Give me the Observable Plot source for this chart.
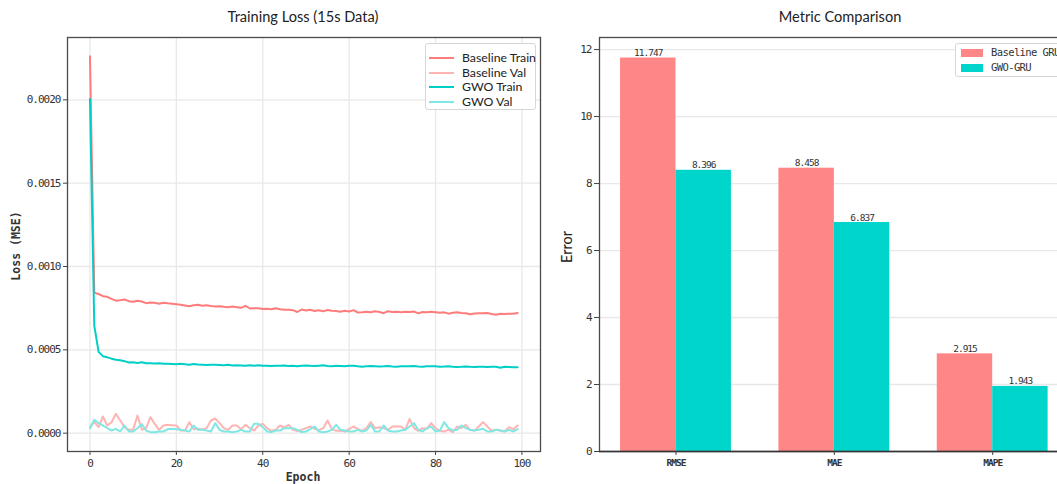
<!DOCTYPE html>
<html><head><meta charset="utf-8">
<script src="https://cdn.jsdelivr.net/npm/d3@7"></script>
<script src="https://cdn.jsdelivr.net/npm/@observablehq/plot@0.6"></script>
<style>
html,body{margin:0;padding:0;background:#fff;overflow:hidden}
#wrap{position:relative;width:1057px;height:484px;overflow:hidden;background:#fff}
.abs{position:absolute;white-space:nowrap}
.title{font-family:Lato,"Open Sans",sans-serif;font-size:14.6px;color:#222;transform:translateX(-50%)}
.mono{font-family:"DejaVu Sans Mono","Liberation Mono",monospace;color:#333}
.leg{position:absolute;background:#fff;border:1px solid #d6d6d6;border-radius:3px;box-sizing:border-box}
</style></head><body><div id="wrap"></div>
<script>
// ---------------- data: training loss ----------------
const epochs = d3.range(100);
const seriesNames = ["Baseline Train", "Baseline Val", "GWO Train", "GWO Val"];
const seriesColors = ["#ff7c7c", "#ffb4b4", "#00cfc8", "#80e8e4"];
const baselineTrain = [
0.002262,0.000842,0.000835,0.000822,0.000818,0.000806,0.000795,0.000798,0.000802,0.000792,
0.000788,0.000795,0.000790,0.000780,0.000784,0.000782,0.000776,0.000783,0.000779,0.000776,
0.000773,0.000770,0.000766,0.000762,0.000768,0.000771,0.000765,0.000767,0.000763,0.000760,
0.000762,0.000758,0.000755,0.000760,0.000756,0.000752,0.000764,0.000748,0.000750,0.000749,
0.000745,0.000747,0.000743,0.000750,0.000744,0.000741,0.000740,0.000738,0.000727,0.000742,
0.000736,0.000740,0.000733,0.000737,0.000731,0.000739,0.000735,0.000733,0.000729,0.000734,
0.000730,0.000738,0.000724,0.000726,0.000729,0.000725,0.000731,0.000727,0.000720,0.000732,
0.000727,0.000728,0.000726,0.000729,0.000727,0.000730,0.000719,0.000727,0.000726,0.000729,
0.000726,0.000723,0.000725,0.000717,0.000723,0.000726,0.000721,0.000720,0.000713,0.000718,
0.000720,0.000719,0.000721,0.000715,0.000711,0.000716,0.000715,0.000717,0.000716,0.000721];
const baselineVal = [
0.000036,0.000066,0.000036,0.000100,0.000046,0.000066,0.000116,0.000076,0.000036,0.000020,
0.000020,0.000106,0.000020,0.000030,0.000096,0.000056,0.000020,0.000046,0.000050,0.000048,
0.000046,0.000016,0.000016,0.000066,0.000024,0.000026,0.000022,0.000030,0.000076,0.000088,
0.000060,0.000030,0.000020,0.000046,0.000046,0.000024,0.000050,0.000030,0.000016,0.000046,
0.000056,0.000030,0.000014,0.000020,0.000046,0.000034,0.000050,0.000020,0.000012,0.000020,
0.000030,0.000040,0.000026,0.000018,0.000030,0.000076,0.000024,0.000014,0.000016,0.000010,
0.000024,0.000040,0.000026,0.000014,0.000030,0.000066,0.000030,0.000036,0.000030,0.000020,
0.000040,0.000040,0.000040,0.000020,0.000086,0.000030,0.000014,0.000030,0.000026,0.000060,
0.000030,0.000014,0.000010,0.000020,0.000006,0.000040,0.000030,0.000050,0.000020,0.000014,
0.000040,0.000066,0.000040,0.000014,0.000020,0.000016,0.000010,0.000036,0.000024,0.000046];
const gwoTrain = [
0.002005,0.000645,0.000488,0.000462,0.000455,0.000447,0.000440,0.000438,0.000432,0.000424,
0.000426,0.000421,0.000426,0.000420,0.000419,0.000418,0.000420,0.000417,0.000416,0.000415,
0.000414,0.000416,0.000413,0.000411,0.000415,0.000412,0.000411,0.000409,0.000410,0.000411,
0.000409,0.000407,0.000410,0.000406,0.000408,0.000406,0.000404,0.000407,0.000405,0.000408,
0.000405,0.000404,0.000403,0.000405,0.000404,0.000406,0.000403,0.000404,0.000402,0.000405,
0.000406,0.000404,0.000403,0.000405,0.000407,0.000403,0.000401,0.000404,0.000403,0.000402,
0.000404,0.000405,0.000401,0.000399,0.000401,0.000403,0.000402,0.000400,0.000401,0.000403,
0.000400,0.000398,0.000401,0.000402,0.000401,0.000403,0.000400,0.000399,0.000401,0.000402,
0.000401,0.000399,0.000400,0.000402,0.000399,0.000397,0.000398,0.000400,0.000398,0.000397,
0.000399,0.000398,0.000397,0.000399,0.000398,0.000392,0.000398,0.000397,0.000395,0.000396];
const gwoVal = [
0.000030,0.000080,0.000060,0.000046,0.000030,0.000016,0.000026,0.000010,0.000046,0.000010,
0.000010,0.000030,0.000054,0.000016,0.000006,0.000006,0.000010,0.000010,0.000024,0.000026,
0.000024,0.000020,0.000016,0.000010,0.000046,0.000020,0.000020,0.000016,0.000010,0.000060,
0.000020,0.000010,0.000010,0.000006,0.000010,0.000020,0.000010,0.000010,0.000056,0.000056,
0.000036,0.000010,0.000006,0.000016,0.000016,0.000030,0.000030,0.000030,0.000020,0.000006,
0.000010,0.000024,0.000040,0.000010,0.000006,0.000010,0.000020,0.000050,0.000020,0.000016,
0.000010,0.000010,0.000020,0.000010,0.000016,0.000050,0.000010,0.000010,0.000046,0.000016,
0.000010,0.000010,0.000016,0.000020,0.000040,0.000060,0.000020,0.000010,0.000030,0.000040,
0.000010,0.000016,0.000066,0.000030,0.000016,0.000020,0.000046,0.000030,0.000020,0.000016,
0.000020,0.000026,0.000010,0.000010,0.000020,0.000016,0.000010,0.000020,0.000010,0.000024];
const lossXTicks = [0, 20, 40, 60, 80, 100];
const lossYTicks = [0, 0.0005, 0.0010, 0.0015, 0.0020];

// ---------------- data: metric comparison ----------------
const metrics = ["RMSE", "MAE", "MAPE"];
const models = ["Baseline GRU", "GWO-GRU"];
const modelColors = ["#ff8686", "#00d5cc"];
const baselineMetrics = [11.747, 8.458, 2.915];
const gwoMetrics = [8.396, 6.837, 1.943];
const errorYTicks = [0, 2, 4, 6, 8, 10, 12];

// ---------------- build ----------------
const wrap = document.getElementById("wrap");
const mono = "'DejaVu Sans Mono','Liberation Mono',monospace";
const seriesValues = [baselineTrain, baselineVal, gwoTrain, gwoVal];
const lossRows = [];
seriesNames.forEach((name, si) => seriesValues[si].forEach((v, i) => lossRows.push({series: name, epoch: epochs[i], loss: v})));

const gridColor = "#e8e8e8";
const left = Plot.plot({
  width: 545, height: 484,
  marginLeft: 67, marginRight: 5, marginTop: 37, marginBottom: 33,
  style: {fontFamily: mono, fontSize: "11px", color: "#333", letterSpacing: "-1px", background: "transparent"},
  x: {domain: [-5.2, 104.3]},
  y: {domain: [-0.00011, 0.002374]},
  color: {domain: seriesNames, range: seriesColors},
  marks: [
    Plot.gridX(lossXTicks, {stroke: gridColor, strokeOpacity: 1, strokeWidth: 1.3}),
    Plot.gridY(lossYTicks, {stroke: gridColor, strokeOpacity: 1, strokeWidth: 1.3}),
    Plot.lineY(lossRows, {x: "epoch", y: "loss", z: "series", stroke: "series", strokeWidth: 2}),
    Plot.frame({stroke: "#4a4a4a", strokeWidth: 1.3}),
    Plot.axisX(lossXTicks, {tickSize: 4, tickPadding: 4, label: null, stroke: "#444"}),
    Plot.axisY(lossYTicks, {tickSize: 4, tickPadding: 3, label: null, tickFormat: d3.format(".4f"), stroke: "#444"})
  ]
});
left.style.position = "absolute"; left.style.left = "0px"; left.style.top = "0px";
wrap.appendChild(left);

const barRows = [];
metrics.forEach((m, i) => {
  barRows.push({metric: m, mi: i, model: models[0], k: 0, value: baselineMetrics[i]});
  barRows.push({metric: m, mi: i, model: models[1], k: 1, value: gwoMetrics[i]});
});
const bw = 0.35;
const right = Plot.plot({
  width: 530, height: 484,
  marginLeft: 54, marginRight: 6, marginTop: 37, marginBottom: 33,
  style: {fontFamily: mono, fontSize: "11px", color: "#333", letterSpacing: "-1px", background: "transparent"},
  x: {domain: [-0.483, 2.485]},
  y: {domain: [0, 12.36]},
  color: {domain: models, range: modelColors},
  marks: [
    Plot.gridY(errorYTicks, {stroke: gridColor, strokeOpacity: 1, strokeWidth: 1.3}),
    Plot.rectY(barRows, {x1: d => d.mi + (d.k - 1) * bw, x2: d => d.mi + d.k * bw, y: "value", fill: "model"}),
    Plot.text(barRows, {x: d => d.mi + (d.k - 0.5) * bw, y: "value", text: d => d.value.toFixed(3), dy: -5, fontSize: 9.5, fill: "#333"}),
    Plot.frame({stroke: "#4a4a4a", strokeWidth: 1.3}),
    Plot.ruleY([0], {stroke: "#333", strokeWidth: 1.6}),
    Plot.axisX([0, 1, 2], {tickSize: 4, tickPadding: 4, label: null, tickFormat: i => metrics[i], fontWeight: "bold", fontSize: 9.5, stroke: "#444"}),
    Plot.axisY(errorYTicks, {tickSize: 5, tickPadding: 3, label: null, stroke: "#444"})
  ]
});
right.style.position = "absolute"; right.style.left = "545px"; right.style.top = "0px";
wrap.appendChild(right);

function addDiv(cls, text, css) {
  const d = document.createElement("div");
  d.className = cls; d.textContent = text;
  Object.assign(d.style, css);
  wrap.appendChild(d);
  return d;
}
// titles
addDiv("abs title", "Training Loss (15s Data)", {left: "303px", top: "8px"});
addDiv("abs title", "Metric Comparison", {left: "840px", top: "8px"});
// axis labels
addDiv("abs mono", "Loss (MSE)", {left: "16px", top: "246px", fontSize: "11.5px", transform: "translate(-50%,-50%) rotate(-90deg)", fontWeight: "bold", color: "#333"});
addDiv("abs mono", "Epoch", {left: "303px", top: "470px", fontSize: "11.5px", transform: "translateX(-50%)", fontWeight: "bold", color: "#333"});
addDiv("abs", "Error", {left: "566px", top: "247px", fontSize: "14.5px", fontFamily: "Lato,'Open Sans',sans-serif", transform: "translate(-50%,-50%) rotate(-90deg)", color: "#222"});

// left legend
const legL = document.createElement("div");
legL.className = "leg";
Object.assign(legL.style, {left: "425px", top: "43px", width: "111px", height: "67px"});
wrap.appendChild(legL);
seriesNames.forEach((n, i) => {
  const y = 57 + i * 14.6 - 43;
  const line = document.createElement("div");
  Object.assign(line.style, {position: "absolute", left: "3px", top: (y - 1) + "px", width: "25px", height: "2px", background: seriesColors[i]});
  legL.appendChild(line);
  const t = document.createElement("div");
  t.textContent = n;
  Object.assign(t.style, {position: "absolute", left: "36px", top: (y - 8) + "px", fontFamily: "Lato,'Open Sans',sans-serif", fontSize: "12.3px", color: "#222", whiteSpace: "nowrap"});
  legL.appendChild(t);
});
// right legend
const legR = document.createElement("div");
legR.className = "leg";
Object.assign(legR.style, {left: "955px", top: "43px", width: "130px", height: "34px"});
wrap.appendChild(legR);
models.forEach((n, i) => {
  const y = 52 + i * 15 - 43;
  const sw = document.createElement("div");
  Object.assign(sw.style, {position: "absolute", left: "5px", top: (y - 4) + "px", width: "22px", height: "8px", background: modelColors[i]});
  legR.appendChild(sw);
  const t = document.createElement("div");
  t.textContent = n;
  Object.assign(t.style, {position: "absolute", left: "35px", top: (y - 7) + "px", fontFamily: mono, fontSize: "10.5px", letterSpacing: "-0.6px", color: "#333", whiteSpace: "nowrap"});
  legR.appendChild(t);
});
</script></body></html>
